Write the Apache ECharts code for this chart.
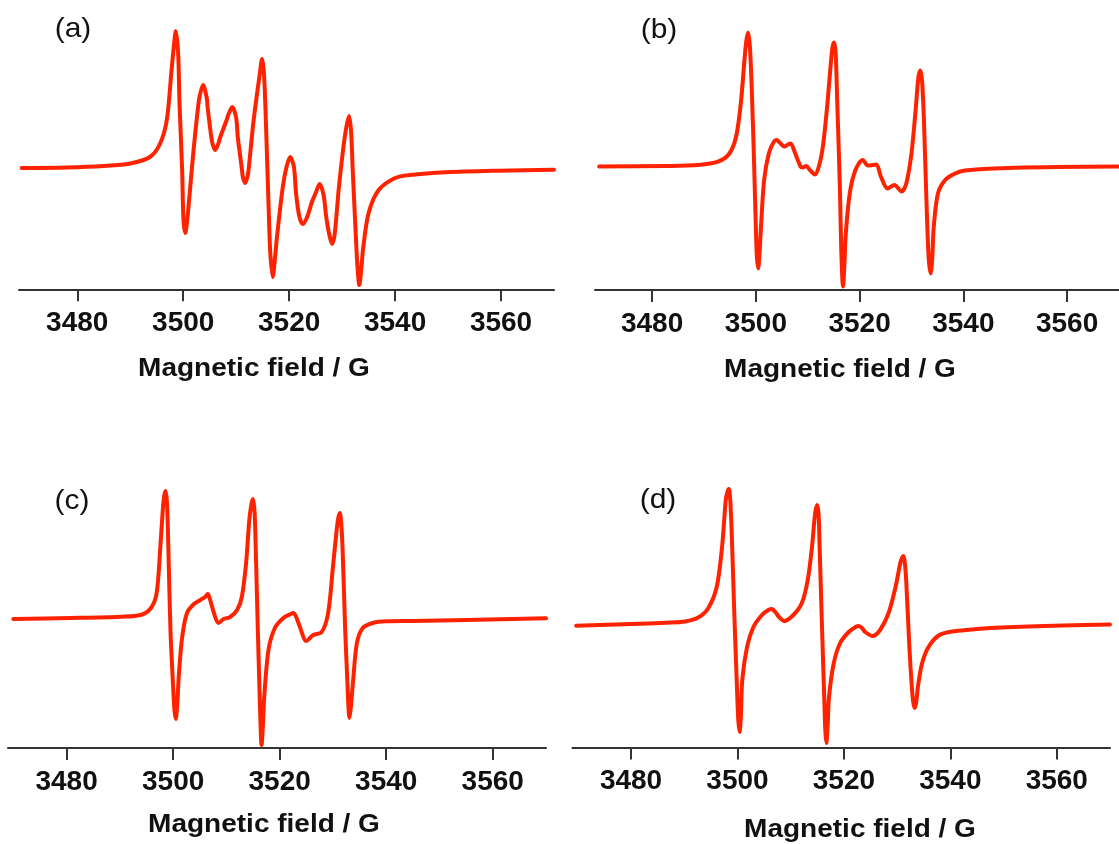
<!DOCTYPE html>
<html>
<head>
<meta charset="utf-8">
<script src="https://cdn.jsdelivr.net/npm/echarts@6/dist/echarts.min.js"></script>
<style>
html,body{margin:0;padding:0;background:#fff;}
#chart{width:1119px;height:844px;}
</style>
</head>
<body>
<div id="chart"></div>
<script>
// Tick labels of the magnetic field axis (G)
const fieldTicks = [3480, 3500, 3520, 3540, 3560];
const panelLabels = ['(a)', '(b)', '(c)', '(d)'];
const axisTitle = 'Magnetic field / G';

// Spectra: [field (G), first-derivative EPR signal (arb. units)]
const spectrumA = [[3469.5,0],[3478,0.5],[3485,2],[3490,4.5],[3493.7,11],[3495.6,24],[3496.9,48],[3497.8,98],[3498.2,120],[3498.6,137],[3499.05,114],[3499.3,65],[3499.8,-2],[3500.05,-52],[3500.4,-65],[3500.75,-52],[3501.0,-39],[3501.9,15],[3502.8,61],[3503.15,73],[3503.75,83],[3504.45,70],[3504.6,61],[3505.3,31],[3505.55,24],[3506.0,18],[3506.6,24],[3507.0,31],[3508.2,48],[3508.5,53],[3509.25,61],[3510.0,50],[3510.3,31],[3511.1,-2],[3511.25,-9],[3511.7,-15],[3512.2,-7],[3512.4,1],[3513.3,48],[3514.45,94],[3514.9,109],[3515.25,94],[3515.6,48],[3516.2,-52],[3516.45,-86],[3516.9,-109],[3517.4,-86],[3517.7,-69],[3518.8,-19],[3519.5,1],[3520.2,11],[3520.9,1],[3521.3,-25],[3521.9,-48],[3522.6,-56],[3523.4,-49],[3524.3,-34],[3525.0,-25],[3525.75,-16],[3526.5,-27],[3527.0,-49],[3527.55,-66],[3528.1,-76],[3528.6,-66],[3529.4,-19],[3530.5,31],[3531.3,52],[3531.7,36],[3532.0,-2],[3532.6,-69],[3532.9,-99],[3533.25,-117],[3533.65,-99],[3534.0,-79],[3535.0,-45],[3536.9,-22],[3540,-10],[3542.8,-7],[3549.6,-4.3],[3559.7,-2.7],[3570,-1.7]];

const spectrumB = [[3469.8,0],[3482.7,0.5],[3488.9,1.5],[3492.7,4.8],[3494.9,13],[3496.2,30],[3497.1,63],[3497.8,106],[3498.15,125],[3498.5,134],[3498.85,120],[3499.2,80],[3499.7,-3.5],[3500.0,-60],[3500.2,-90],[3500.45,-102],[3500.7,-88],[3501.0,-60],[3501.6,-13.5],[3502.5,13],[3503.4,24],[3504.0,26.5],[3504.6,24],[3505.5,20],[3506.2,22],[3506.7,23],[3507.6,13],[3508.6,0],[3509.0,-1],[3509.7,0.5],[3510.5,-4],[3511.4,-8],[3512.3,3],[3513.0,23],[3513.8,63],[3514.5,106],[3514.8,120],[3515.1,124],[3515.4,112],[3515.7,63],[3516.2,-20],[3516.45,-80],[3516.8,-120],[3517.1,-95],[3517.3,-70],[3518.1,-27],[3519.2,-3.5],[3520.6,6.5],[3521.6,1],[3523.2,2],[3524.1,-10],[3525.4,-22],[3526.7,-18.5],[3528.1,-25],[3529.0,-17],[3530.0,13],[3530.8,56.5],[3531.35,90],[3531.7,96],[3532.05,85],[3532.4,46.5],[3532.8,-20],[3533.3,-90],[3533.7,-107],[3534.0,-92],[3534.3,-60],[3535.1,-27],[3536.5,-13.5],[3538.4,-7],[3540.3,-4],[3550,-1.2],[3570,0]];

const spectrumC = [[3470,-1],[3480.8,0],[3490.2,1.3],[3493.9,3],[3495.8,9.7],[3496.9,24.7],[3497.6,71],[3498.1,111],[3498.35,123],[3498.6,127],[3498.85,115],[3499.1,71],[3499.5,-12],[3500.0,-69],[3500.25,-92],[3500.5,-101],[3500.75,-88],[3501.1,-55],[3501.7,-19],[3502.6,5],[3503.9,14],[3505.1,18],[3506.0,21],[3506.5,24],[3506.9,19],[3507.6,6],[3508.5,-5],[3509.5,-1],[3510.7,1],[3512.0,8],[3512.9,21],[3513.7,55],[3514.3,98],[3514.7,114],[3515.0,119],[3515.3,105],[3515.5,71],[3515.9,-12],[3516.2,-69],[3516.4,-105],[3516.6,-127],[3516.85,-108],[3517.1,-79],[3517.9,-32],[3519.1,-10],[3520.7,0],[3522.1,4],[3522.6,5],[3523.1,1],[3523.8,-9],[3525.0,-23],[3526.3,-17],[3527.9,-14],[3529.1,5],[3530.0,51],[3530.7,88],[3531.0,100],[3531.3,105],[3531.55,95],[3531.8,71],[3532.3,-12],[3532.7,-62],[3532.9,-88],[3533.1,-100],[3533.35,-90],[3533.8,-62],[3534.5,-25],[3535.6,-10],[3537.5,-5],[3540,-3.3],[3545,-3],[3555,-2],[3570,-0.3]];

const spectrumD = [[3469.7,-0.7],[3480,1],[3486.6,2.3],[3490.2,3.5],[3492.7,7.7],[3494.5,16.7],[3496.1,38],[3497.1,78],[3497.8,125],[3498.1,133],[3498.4,136],[3498.65,124],[3498.9,95],[3499.4,12],[3499.9,-62],[3500.15,-95],[3500.4,-107],[3500.65,-90],[3500.9,-55],[3501.8,-22],[3503.0,-2],[3504.6,10],[3505.8,15],[3506.5,16],[3507.1,13],[3507.8,8],[3508.8,4],[3510.5,10],[3512.1,22],[3513.2,45],[3514.0,78],[3514.6,112],[3515.0,120],[3515.25,110],[3515.4,85],[3515.9,-5],[3516.3,-72],[3516.5,-105],[3516.7,-118],[3516.95,-100],[3517.2,-72],[3518.1,-38],[3519.3,-18],[3520.9,-7],[3522.2,-2],[3522.8,-1],[3523.4,-3],[3524.0,-7],[3525.4,-11],[3526.8,-5],[3528.4,12],[3529.7,38],[3530.6,62],[3530.9,67],[3531.2,69],[3531.45,62],[3531.7,45],[3532.3,-22],[3532.8,-65],[3533.05,-78],[3533.3,-83],[3533.6,-77],[3533.9,-62],[3534.7,-38],[3535.9,-22],[3537.8,-10.5],[3540.3,-6.5],[3544,-4.5],[3547.4,-3],[3557.6,-1],[3570,0.5]];

const spectra = [spectrumA, spectrumB, spectrumC, spectrumD];

// Layout (pixels)
const grids = [
  {left: 19, top: 20, width: 535, height: 269.3},
  {left: 595, top: 20, width: 533, height: 270},
  {left: 8, top: 470, width: 538, height: 278},
  {left: 572.5, top: 470, width: 537.5, height: 277.5}
];
const yRanges = [[-121.3, 148], [-123.5, 146.5], [-130, 148], [-122.5, 155]];
const labelPos = [[73, 29], [659, 30], [72, 501], [658, 500]];
const titlePos = [[254, 369], [840, 370], [264, 825], [860, 830]];

const FONT = '"Liberation Sans", Arial, sans-serif';
const RED = '#ff2200';
const AXIS = '#333333';

const chart = echarts.init(document.getElementById('chart'), null, {renderer: 'canvas'});

const option = {
  backgroundColor: '#ffffff',
  animation: false,
  grid: grids.map(g => Object.assign({containLabel: false}, g)),
  xAxis: grids.map((g, i) => ({
    type: 'value', gridIndex: i, min: 3469, max: 3570,
    axisLine: {show: true, onZero: false, lineStyle: {color: AXIS, width: 2}},
    axisTick: {show: true, length: 12, customValues: fieldTicks, lineStyle: {color: AXIS, width: 2}},
    axisLabel: {show: true, customValues: fieldTicks, formatter: v => String(v), fontSize: 28, fontWeight: 'bold', fontFamily: FONT, color: '#111', margin: 20},
    splitLine: {show: false}
  })),
  yAxis: grids.map((g, i) => ({
    type: 'value', gridIndex: i, min: yRanges[i][0], max: yRanges[i][1], show: false,
    splitLine: {show: false}
  })),
  series: spectra.map((s, i) => ({
    type: 'line', xAxisIndex: i, yAxisIndex: i,
    data: s,
    smooth: 0.3, showSymbol: false, symbol: 'none',
    lineStyle: {color: RED, width: 4, join: 'round', cap: 'round'},
    itemStyle: {color: RED}
  })),
  graphic: [].concat(
    panelLabels.map((t, i) => ({
      type: 'text', x: labelPos[i][0], y: labelPos[i][1], scaleX: 1.07,
      style: {text: t, font: 'normal 28px ' + FONT, fill: '#111', textAlign: 'center', textVerticalAlign: 'middle'}
    })),
    titlePos.map(p => ({
      type: 'text', x: p[0], y: p[1], scaleX: 1.12,
      style: {text: axisTitle, font: 'bold 25px ' + FONT, fill: '#111', textAlign: 'center', textVerticalAlign: 'middle'}
    }))
  )
};
chart.setOption(option);
</script>
</body>
</html>
